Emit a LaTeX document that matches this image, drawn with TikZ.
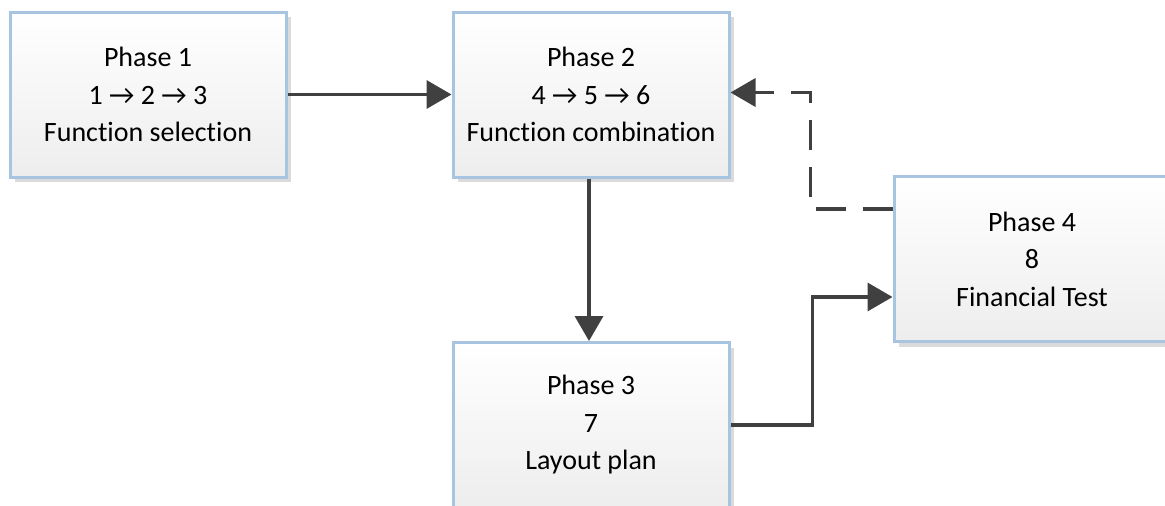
\documentclass[tikz,border=0pt]{standalone}
\usepackage{fontspec}
\setmainfont[Ligatures=NoCommon]{Carlito}
\usetikzlibrary{arrows.meta,shadows}
\definecolor{bordc}{HTML}{A7C4E0}
\definecolor{linec}{HTML}{404040}
\tikzset{
  phase/.style={draw=bordc, line width=3pt, top color=white, bottom color=black!7,
    minimum width=276pt, minimum height=165pt, align=center, inner sep=0pt,
    font=\fontsize{28}{37.5}\selectfont,
    drop shadow={shadow xshift=5pt, shadow yshift=-5pt, fill=black!14, opacity=1}},
  conn/.style={draw=linec, line width=3.6pt, -{Triangle[length=25pt,width=28pt]}},
}
\begin{document}
\begin{tikzpicture}
\useasboundingbox (0pt,0pt) rectangle (1165pt,-506pt);
\fill[white] (0pt,0pt) rectangle (1165pt,-506pt);
\clip (0pt,0pt) rectangle (1165pt,-506pt);
\node[phase] (p1) at (148pt,-94.5pt) {Phase 1\\1 → 2 → 3\\Function selection};
\node[phase] (p2) at (591pt,-94.5pt) {Phase 2\\4 → 5 → 6\\Function combination};
\node[phase] (p3) at (591pt,-425pt) {Phase 3\\7\\Layout plan};
\node[phase] (p4) at (1032pt,-259pt) {Phase 4\\8\\Financial Test};
\draw[conn] (p1.east) -- (p2.west);
\draw[conn] ([xshift=-2pt]p2.south) -- ([xshift=-2pt]p3.north);
\draw[conn] (p3.east) -- ++(82pt,0pt) |- ([yshift=-38pt]p4.west);
\draw[conn, dash pattern=on 30pt off 17pt] ([yshift=50pt]p4.west) -- ++(-82pt,0pt) |- ([yshift=2pt]p2.east);
\end{tikzpicture}
\end{document}
